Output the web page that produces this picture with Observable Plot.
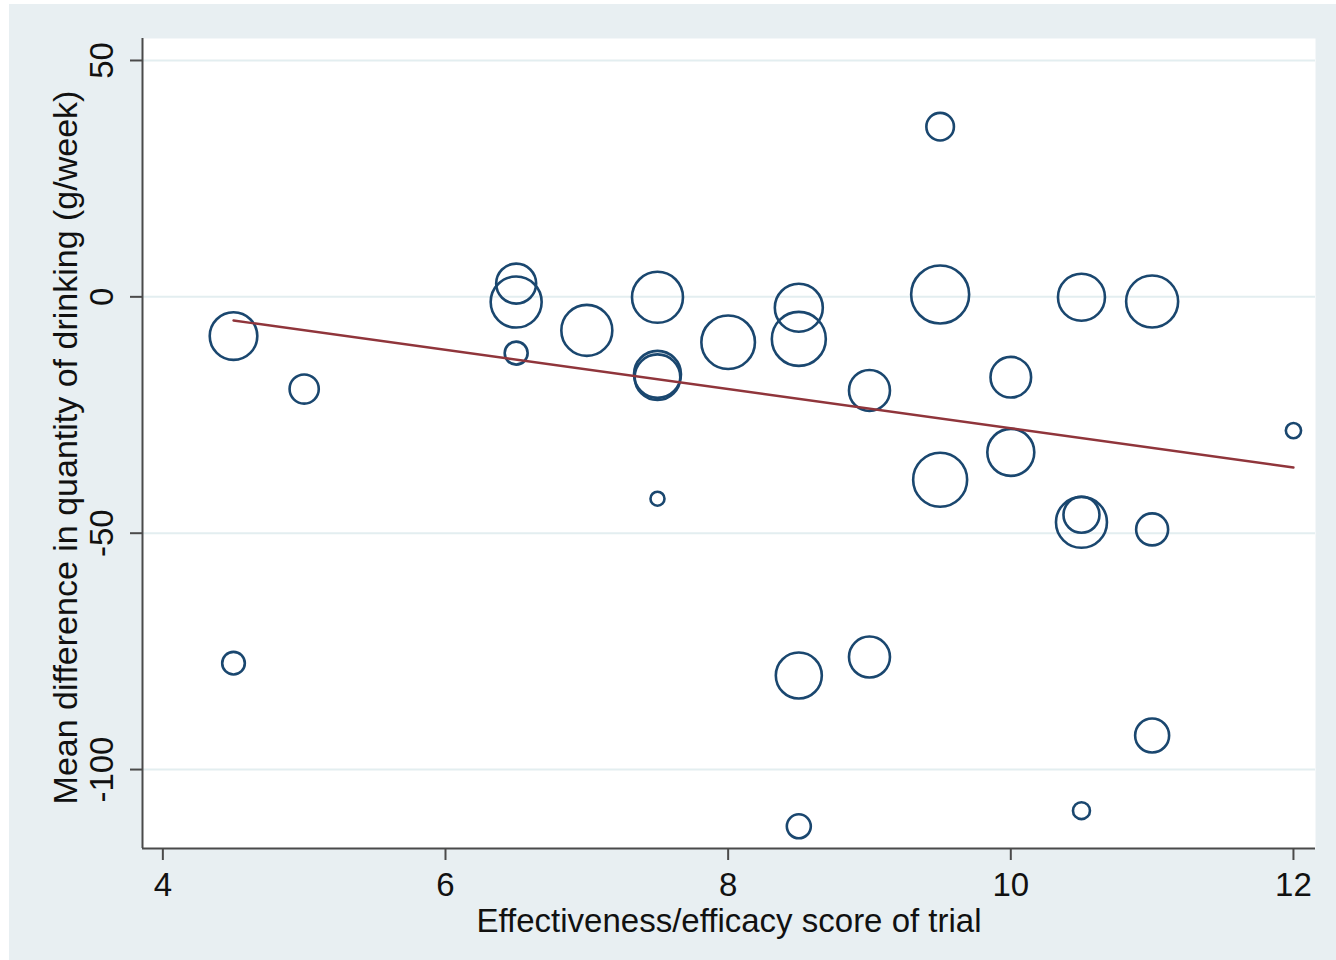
<!DOCTYPE html>
<html>
<head>
<meta charset="utf-8">
<script src="https://cdn.jsdelivr.net/npm/d3@7"></script>
<script src="https://cdn.jsdelivr.net/npm/@observablehq/plot@0.6"></script>
<style>
  html, body { margin: 0; padding: 0; background: #ffffff; }
  #wrap { position: absolute; left: 9px; top: 4px; width: 1327px; height: 956px; background: #e8eff2; }
  #wrap svg { display: block; }
</style>
</head>
<body>
<div id="wrap"></div>
<script>
// Data
const scoreX = [4.5, 4.5, 5, 6.5, 6.5, 6.5, 7, 7.5, 7.5, 7.5, 7.5, 8, 8.5, 8.5, 8.5, 8.5, 9, 9, 9.5, 9.5, 9.5, 10, 10, 10.5, 10.5, 10.5, 10.5, 11, 11, 11, 12];
const meanDiff = [-8.3, -77.5, -19.5, 2.8, -1.1, -11.9, -7.1, -0.1, -16.4, -17.0, -42.7, -9.6, -2.3, -8.9, -80.1, -112, -19.8, -76.2, 0.5, 36.0, -38.7, -17.0, -32.9, -0.1, -47.7, -46.1, -108.7, -1.0, -49.2, -92.8, -28.3];
const weight = [56.6, 12.8, 21.3, 40, 65, 13.2, 65, 65, 55.2, 52.0, 4.9, 71.8, 57.6, 72.9, 52.9, 14.4, 42, 42, 84.1, 19, 72.9, 41.2, 55.2, 55.2, 65, 32.4, 7.2, 67.6, 25.6, 28.9, 5.8];

const fitX = [4.5, 12];
const fitY = [-5.0, -36.1];

const xTicks = [4, 6, 8, 10, 12];
const yTicks = [50, 0, -50, -100];
const xDomain = [3.856, 12.156];
const yDomain = [-116.7, 54.65];

const xLabel = "Effectiveness/efficacy score of trial";
const yLabel = "Mean difference in quantity of drinking (g/week)";

const trials = scoreX.map((x, i) => ({x, y: meanDiff[i], w: weight[i]}));
const fit = fitX.map((x, i) => ({x, y: fitY[i]}));

const font = "'Liberation Sans', Arial, sans-serif";
const axisColor = "#4a4a4a";

const chart = Plot.plot({
  width: 1327,
  height: 956,
  marginLeft: 133,
  marginRight: 21,
  marginTop: 34,
  marginBottom: 112,
  style: {background: "transparent", fontFamily: font},
  x: {domain: xDomain, axis: null},
  y: {domain: yDomain, axis: null},
  r: {type: "sqrt", domain: [0, 100], range: [0, 31.62]},
  marks: [
    Plot.frame({fill: "#ffffff", stroke: null}),
    Plot.ruleY(yTicks, {stroke: "#e3eef0", strokeWidth: 2}),
    // axis lines
    Plot.ruleX([xDomain[0]], {stroke: axisColor, strokeWidth: 2}),
    Plot.ruleY([yDomain[0]], {stroke: axisColor, strokeWidth: 2}),
    // ticks and tick labels
    Plot.axisX({ticks: xTicks, tickSize: 12, tickPadding: 12, tickFormat: d => String(d), fontSize: 33, stroke: axisColor, strokeWidth: 2, color: "#111", label: null}),
    Plot.axisY({ticks: yTicks, tickSize: 12, tickFormat: () => "", stroke: axisColor, strokeWidth: 2, label: null}),
    Plot.text(yTicks, {x: xDomain[0], y: d => d, text: d => String(d), rotate: -90, dx: -40, fontSize: 33, fill: "#111", lineAnchor: "middle", textAnchor: "middle"}),
    // axis titles
    Plot.text([xLabel], {frameAnchor: "bottom", dy: 73, fontSize: 33, fill: "#111", lineAnchor: "middle", textAnchor: "middle"}),
    Plot.text([yLabel], {frameAnchor: "left", dx: -76, dy: 4, rotate: -90, fontSize: 34, fill: "#111", lineAnchor: "middle", textAnchor: "middle"}),
    // bubbles
    Plot.dot(trials, {x: "x", y: "y", r: "w", fill: "none", stroke: "#1a476f", strokeWidth: 2.6}),
    // fitted line
    Plot.line(fit, {x: "x", y: "y", stroke: "#90353b", strokeWidth: 2.4})
  ]
});
document.getElementById("wrap").appendChild(chart);
</script>
</body>
</html>
